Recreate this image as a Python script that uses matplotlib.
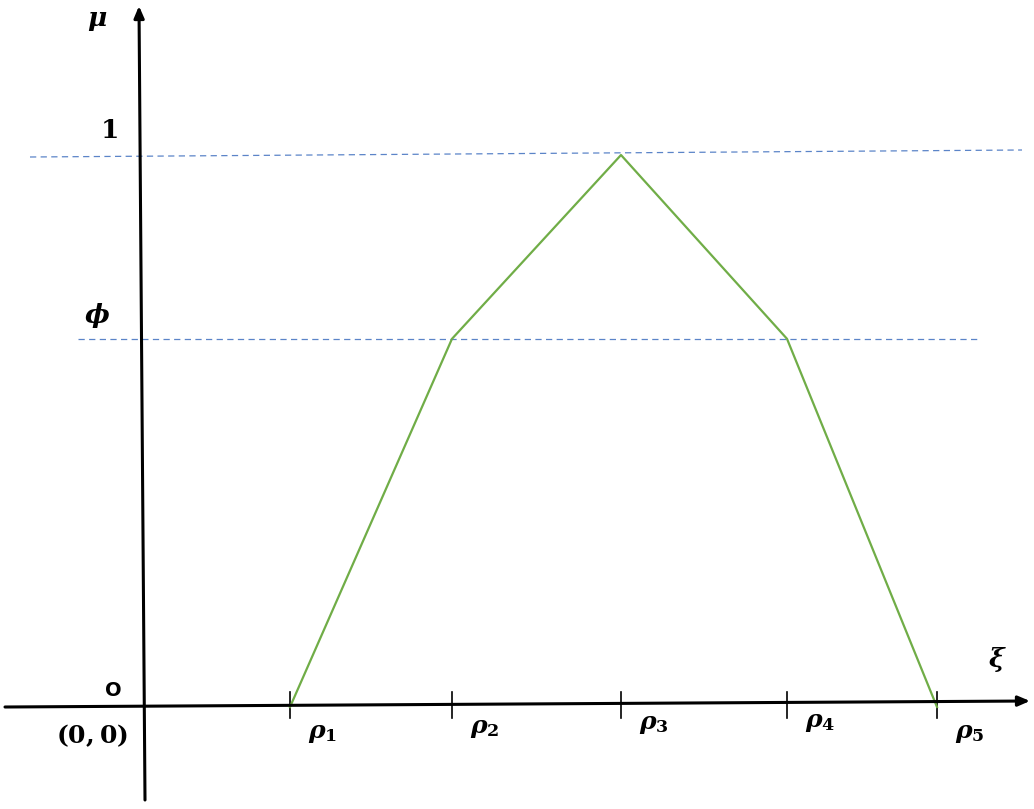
import matplotlib
matplotlib.use("Agg")
import matplotlib.pyplot as plt

plt.rcParams['mathtext.fontset'] = 'custom'
plt.rcParams['mathtext.it'] = 'DejaVu Serif:italic:bold'
plt.rcParams['mathtext.rm'] = 'DejaVu Serif:bold'
plt.rcParams['mathtext.bf'] = 'DejaVu Serif:bold'

# Data (x in arbitrary units, origin at 0; y = membership grade)
rho_labels = [r'$\rho_1$', r'$\rho_2$', r'$\rho_3$', r'$\rho_4$', r'$\rho_5$']
rho = [1.47, 3.09, 4.78, 6.44, 7.94]
mu = [0.0, 0.667, 1.0, 0.667, 0.0]
phi = 0.667
level_one = 1.0

W, H = 1034, 809
fig = plt.figure(figsize=(W / 100, H / 100), dpi=100)
ax = fig.add_axes([0, 0, 1, 1])
sx, sy = 100.0, 552.0      # pixels per data unit
ox, oy = 143, 707          # origin in pixels (from top-left)
ax.set_xlim(-ox / sx, (W - ox) / sx)
ax.set_ylim(-(H - oy) / sy, oy / sy)
ax.axis('off')

def px(x):
    return (x - ox) / sx

def py(y):
    return (oy - y) / sy

# dashed reference lines
ax.plot([px(30), px(1022)], [py(157), py(150)], color='#5B84C8', lw=0.9,
        dashes=(5, 3.5))
ax.plot([px(78), px(980)], [phi, phi], color='#5B84C8', lw=0.9,
        dashes=(5, 3.5))

# axes with arrows
ax.annotate('', xy=(px(1030), py(701)), xytext=(px(5), py(707)),
            arrowprops=dict(arrowstyle='-|>,head_length=0.7,head_width=0.3',
                            color='black', lw=2.2, shrinkA=0, shrinkB=0))
ax.annotate('', xy=(px(139), py(6)), xytext=(px(145), py(800)),
            arrowprops=dict(arrowstyle='-|>,head_length=0.7,head_width=0.3',
                            color='black', lw=2.2, shrinkA=0, shrinkB=0))

# tick marks on x-axis
for r in rho:
    ax.plot([r, r], [py(692), py(718)], color='black', lw=1.2)

# membership function
ax.plot(rho, mu, color='#70AD47', lw=1.6)

# labels
for r, lab, dy in zip(rho, rho_labels, [733, 728, 724, 722, 733]):
    ax.text(r + 0.33, py(dy), lab, fontsize=18, ha='center', va='center')

ax.text(px(97), py(20), r'$\mu$', fontsize=19, ha='center', va='center')
ax.text(px(110), py(131), '1', fontsize=19, ha='center', va='center',
        family='DejaVu Serif', weight='bold')
ax.text(px(97), py(315), r'$\phi$', fontsize=19, ha='center', va='center')
ax.text(px(113), py(691), 'O', fontsize=14, ha='center', va='center',
        family='DejaVu Sans', weight='bold')
ax.text(px(92), py(736), r'$(0,0)$', fontsize=18, ha='center', va='center')
ax.text(px(997), py(660), r'$\xi$', fontsize=19, ha='center', va='center')

fig.savefig('out.png', dpi=100)
